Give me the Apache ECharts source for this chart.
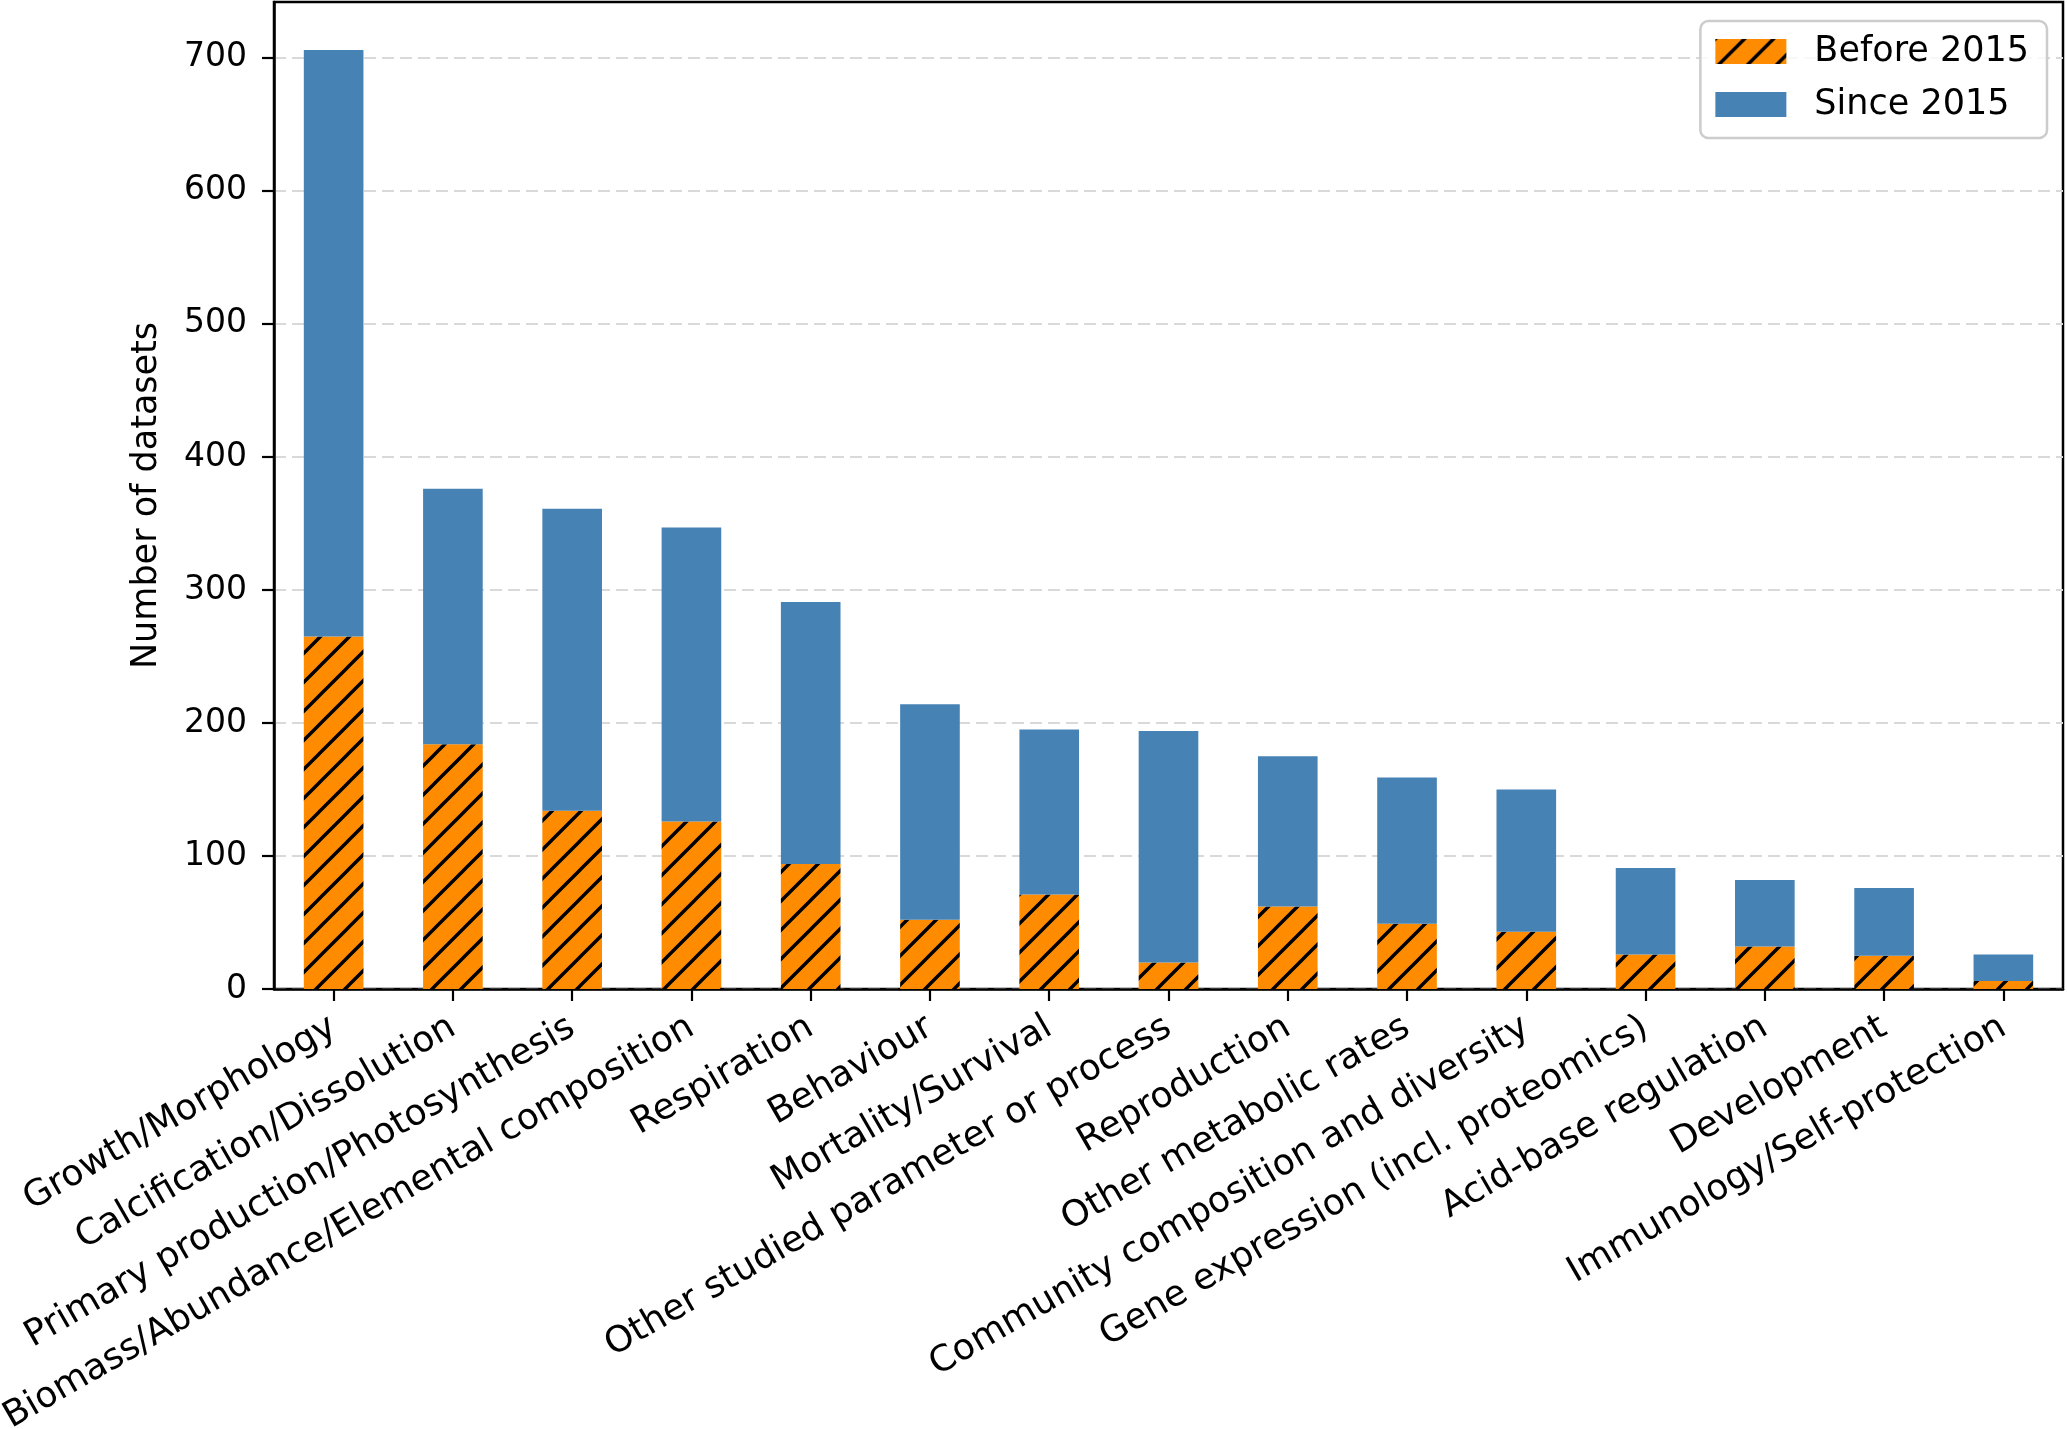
<!DOCTYPE html>
<html>
<head>
<meta charset="utf-8">
<script src="https://cdn.jsdelivr.net/npm/echarts@6/dist/echarts.min.js"></script>
<style>html,body{margin:0;padding:0;background:#fff;}#c{width:2067px;height:1429px;}</style>
</head>
<body>
<div id="c"></div>
<script>
const categories = ["Growth/Morphology","Calcification/Dissolution","Primary production/Photosynthesis","Biomass/Abundance/Elemental composition","Respiration","Behaviour","Mortality/Survival","Other studied parameter or process","Reproduction","Other metabolic rates","Community composition and diversity","Gene expression (incl. proteomics)","Acid-base regulation","Development","Immunology/Self-protection"];
const before2015 = [265,184,134,126,94,52,71,20,62,49,43,26,32,25,6];
const since2015 = [441,192,227,221,197,162,124,174,113,110,107,65,50,51,20];
const yTicks = [0,100,200,300,400,500,600,700];

function hatchPattern(){
  const s = 29;
  const c = document.createElement('canvas');
  c.width = s; c.height = s;
  const g = c.getContext('2d');
  g.fillStyle = '#ff8c00';
  g.fillRect(0,0,s,s);
  g.strokeStyle = '#000';
  g.lineWidth = 3.4;
  g.beginPath();
  g.moveTo(-s, s); g.lineTo(s, -s);
  g.moveTo(0, s); g.lineTo(s, 0);
  g.moveTo(0, 2*s); g.lineTo(2*s, 0);
  g.stroke();
  return c;
}
const hatch = {image: hatchPattern(), repeat: 'repeat'};
const font = 'DejaVu Sans';
const chart = echarts.init(document.getElementById('c'), null, {renderer:'canvas'});
chart.setOption({
  animation: false,
  backgroundColor: '#fff',
  textStyle: {fontFamily: font},
  grid: {left: 274, right: 4, top: 2, bottom: 440, containLabel: false, outerBoundsMode: 'none', show: true, borderColor: '#000', borderWidth: 2.5, backgroundColor: 'transparent'},
  legend: {
    orient: 'vertical', right: 20, top: 21, align: 'left',
    padding: [13, 18, 16, 15],
    itemWidth: 71, itemHeight: 25, itemGap: 18,
    borderColor: '#cccccc', borderWidth: 2.5, borderRadius: 8,
    backgroundColor: 'rgba(255,255,255,0.8)',
    textStyle: {fontFamily: font, fontSize: 35, color: '#000', padding: [0,0,0,23]},
    data: [{name: 'Before 2015', icon: 'rect'}, {name: 'Since 2015', icon: 'rect'}]
  },
  xAxis: {
    type: 'category', data: categories,
    axisLine: {show: true, lineStyle: {color: '#000', width: 2.5}},
    axisTick: {show: true, alignWithLabel: true, length: 12, lineStyle: {color: '#000', width: 2.2}},
    axisLabel: {interval: 0, rotate: 30, margin: 36, fontSize: 36, color: '#000', fontFamily: font},
    splitLine: {show: false}
  },
  yAxis: {
    type: 'value', min: 0, max: 742, interval: 100,
    name: 'Number of datasets', nameLocation: 'middle', nameGap: 110,
    nameTextStyle: {fontSize: 35, color: '#000', fontFamily: font},
    axisLine: {show: true, lineStyle: {color: '#000', width: 2.5}},
    axisTick: {show: true, length: 12, customValues: yTicks, lineStyle: {color: '#000', width: 2.2}},
    axisLabel: {fontSize: 33, color: '#000', margin: 27, customValues: yTicks, fontFamily: font},
    splitLine: {show: true, lineStyle: {color: '#d9d9d9', width: 2, type: [12, 6]}}
  },
  series: [
    {name: 'Before 2015', type: 'bar', stack: 'total', barWidth: '50%', data: before2015, itemStyle: {color: hatch}},
    {name: 'Since 2015', type: 'bar', stack: 'total', barWidth: '50%', data: since2015, itemStyle: {color: '#4682b4'}}
  ]
});
</script>
</body>
</html>
